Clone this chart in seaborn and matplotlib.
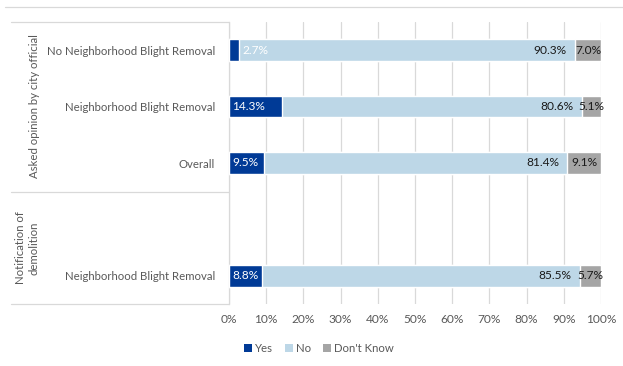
import numpy as np
import pandas as pd
import matplotlib
matplotlib.use("Agg")
import matplotlib.pyplot as plt
from matplotlib.lines import Line2D
from matplotlib.patches import Patch
import seaborn as sns

# ---- data ----
row_labels = ["No Neighborhood Blight Removal", "Neighborhood Blight Removal",
              "Overall", "", "Neighborhood Blight Removal"]
yes = [2.7, 14.3, 9.5, np.nan, 8.8]
no = [90.3, 80.6, 81.4, np.nan, 85.5]
dont_know = [7.0, 5.1, 9.1, np.nan, 5.7]
groups = ["Asked opinion by city official", "Notification of\ndemolition"]
series_names = ["Yes", "No", "Don't Know"]
xticks = [0, 10, 20, 30, 40, 50, 60, 70, 80, 90, 100]

c_yes = "#003A96"
c_no = "#BDD7E7"
c_dk = "#A5A5A5"
txt_gray = "#595959"

sns.set_theme(style="white")
plt.rcParams["font.family"] = ["Lato", "DejaVu Sans"]

keys = [f"r{i}" for i in range(len(row_labels))]
df = pd.DataFrame({"key": keys, "yes": yes, "no": no, "dk": dont_know})
df["c_no"] = df["yes"] + df["no"]
df["c_dk"] = df["c_no"] + df["dk"]

fig = plt.figure(figsize=(6.23, 3.66), dpi=100)
W, H = 623, 366
ax = fig.add_axes([229 / W, 1 - 304 / H, (601 - 229) / W, (304 - 22) / H])

bw = 0.38
sns.barplot(data=df, x="c_dk", y="key", order=keys, color=c_dk, width=bw,
            orient="h", ax=ax, saturation=1, zorder=3)
sns.barplot(data=df, x="c_no", y="key", order=keys, color=c_no, width=bw,
            orient="h", ax=ax, saturation=1, zorder=3)
sns.barplot(data=df, x="yes", y="key", order=keys, color=c_yes, width=bw,
            orient="h", ax=ax, saturation=1, zorder=3)

lfs = 8.2
ax.set_xlim(0, 100)
ax.set_ylim(len(keys) - 0.5, -0.5)
ax.set_xticks(xticks)
ax.set_xticklabels([f"{t}%" for t in xticks], color=txt_gray, fontsize=8.6)
ax.set_yticks(range(len(keys)))
ax.set_yticklabels(row_labels, color=txt_gray, fontsize=lfs)
ax.set_xlabel("")
ax.set_ylabel("")
ax.tick_params(axis="y", length=0, pad=10)
ax.tick_params(axis="x", length=0, pad=7)
for s in ["top", "right", "bottom"]:
    ax.spines[s].set_visible(False)
ax.spines["left"].set_color("#D9D9D9")
ax.spines["left"].set_linewidth(0.9)
ax.grid(axis="x", color="#D9D9D9", linewidth=0.9, zorder=0)
ax.set_axisbelow(True)

fs = 8.6
for i, r in df.iterrows():
    if np.isnan(r["yes"]):
        continue
    # Yes labels
    if r["yes"] < 5:
        ax.text(r["yes"] + 0.8, i, f"{r['yes']:.1f}%", color="white",
                ha="left", va="center", fontsize=fs, zorder=5)
    else:
        ax.text(0.8, i, f"{r['yes']:.1f}%", color="white",
                ha="left", va="center", fontsize=fs, zorder=5)
    # No labels
    ax.text(r["c_no"] - 2.2, i, f"{r['no']:.1f}%", color="#1a1a1a",
            ha="right", va="center", fontsize=fs, zorder=5)
    # Don't know labels
    ax.text((r["c_no"] + r["c_dk"]) / 2, i, f"{r['dk']:.1f}%", color="#1a1a1a",
            ha="center", va="center", fontsize=fs, zorder=5)

# multi-level category frame
lc = "#D9D9D9"
for yy in [22, 191.5, 304]:
    fig.add_artist(Line2D([11 / W, 229 / W], [1 - yy / H, 1 - yy / H],
                          color=lc, linewidth=0.9))
fig.add_artist(Line2D([5 / W, 1], [1 - 7 / H, 1 - 7 / H], color=lc, linewidth=0.9))

fig.text(35 / W, 1 - 106 / H, groups[0], rotation=90, ha="center", va="center",
         color=txt_gray, fontsize=lfs)
fig.text(27 / W, 1 - 248 / H, groups[1], rotation=90, ha="center", va="center",
         color=txt_gray, fontsize=lfs, multialignment="center", linespacing=1.3)

handles = [Patch(facecolor=c, edgecolor="none") for c in [c_yes, c_no, c_dk]]
leg = fig.legend(handles, series_names, loc="center", bbox_to_anchor=(319 / W, 1 - 348 / H),
                 ncol=3, frameon=False, fontsize=lfs, handlelength=0.7, handleheight=0.7,
                 handletextpad=0.3, columnspacing=1.0)
for t in leg.get_texts():
    t.set_color(txt_gray)

fig.savefig("out.png", dpi=100)
